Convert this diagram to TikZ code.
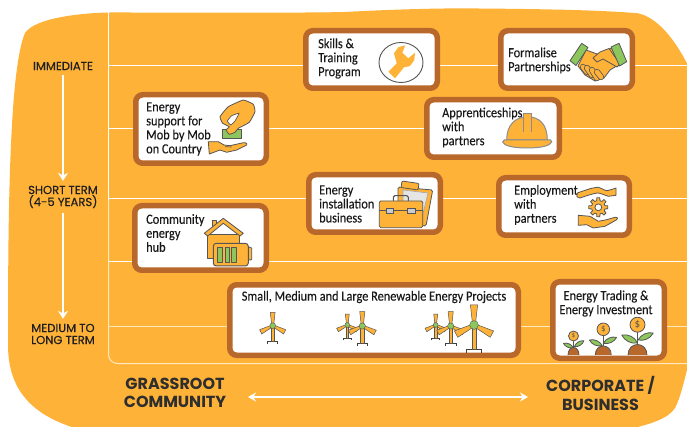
\documentclass[tikz,border=0pt]{standalone}
\usepackage{fontspec}
\usetikzlibrary{arrows.meta}
\setmainfont{Carlito}
\newfontfamily\handf{Carlito}[FakeStretch=0.88,FakeBold=0.25]
\newfontfamily\popf{Poppins}[FakeBold=0.35]
\newfontfamily\popb{Poppins}
\definecolor{blob}{HTML}{FFB238}
\definecolor{brownb}{HTML}{B9682B}
\definecolor{leaf}{HTML}{8CC65C}
\definecolor{ink}{HTML}{555555}
\definecolor{cream}{HTML}{FFE9BE}
\definecolor{soil}{HTML}{B9682B}
\tikzset{
  card/.style={draw=brownb,fill=white,line width=5.5pt,rounded corners=7pt,inner sep=0pt},
  hand/.style={font=\handf\fontsize{14}{14}\selectfont,text=black!90,align=left,anchor=west,inner sep=0pt},
  handc/.style={hand,anchor=center,align=center},
  timelabel/.style={font=\popf\fontsize{11.6}{12}\selectfont,text=black!88,align=center,inner sep=0pt,outer sep=5pt},
  axislabel/.style={font=\popb\bfseries\fontsize{16}{18.5}\selectfont,text=black!82,align=center,inner sep=0pt},
  ic/.style={draw=ink,fill=blob,line width=.8pt,line join=round},
  icg/.style={draw=ink,fill=leaf,line width=.8pt,line join=round},
  gridw/.style={draw=white,line width=1pt},
  gridc/.style={draw=cream,line width=1pt},
  timearrow/.style={draw=white,line width=1.3pt,-{Stealth[length=8pt,width=10pt]}},
  axisarrow/.style={draw=white,line width=1.3pt,{Stealth[length=8pt,width=9pt]}-{Stealth[length=8pt,width=9pt]}}
}
\newcommand\turbine[3]{%
  \begin{scope}[shift={(#1,#2)},scale=#3]
    \draw[draw=black!75,line width=.7pt] (-5,18.7) -- (-5,16) -- (5,16) -- (5,18.7);
    \draw[draw=ink,fill=blob,line width=.5pt] (-1.5,0) rectangle (1.5,16);
    \foreach \ang in {0,117,-117}{
      \draw[draw=ink,fill=blob,line width=.5pt,rotate=\ang] (-1,-1) -- (-2.4,-13.4) -- (2.4,-13.4) -- (1,-1) -- cycle;
    }
    \fill[leaf,draw=ink,line width=.4pt] (0,0) circle (2.9);
  \end{scope}}
% x, coin y, r, soil half width, soil top, left tip, left base, right tip, right base
\newcommand\plantrow[9]{%
  \draw[draw=ink,line width=1pt] (#1,#2) -- (#1,353);
  \draw[draw=ink,fill=soil,line width=.8pt] ({#1-#4},355) .. controls ({#1-#4},#5) and ({#1+#4},#5) .. ({#1+#4},355);
  \draw[icg] (#6) to[bend left=35] (#7) to[bend left=35] (#6);
  \draw[icg] (#8) to[bend right=35] (#9) to[bend right=35] (#8);
  \draw[ic] (#1,#2) circle (#3);
}
\begin{document}
\begin{tikzpicture}[x=1pt,y=-1pt]
\useasboundingbox (0,0) rectangle (687,427);
\clip (0,0) rectangle (687,427);
% background
\fill[blob] (8,345) .. controls (8,220) and (9,70) .. (25,33)
  .. controls (35,18) and (80,13) .. (110,12.5)
  .. controls (230,12.5) and (300,13) .. (345,12)
  .. controls (400,9) and (450,8) .. (478,8.5)
  .. controls (540,9) and (600,10) .. (638,13.3)
  .. controls (655,17) and (675,35) .. (695,80)
  -- (695,340)
  .. controls (687,367) and (682,395) .. (675,408)
  .. controls (668,419) and (650,424) .. (630,429)
  -- (78,429)
  .. controls (38,417) and (8,395) .. (8,345) -- cycle;
% grid
\draw[gridc,rounded corners=9pt] (108.5,200) -- (108.5,363.5) -- (687,363.5);
\draw[gridw] (108.5,12.5) -- (108.5,200);
\draw[gridw] (108.5,65.3) -- (687,65.3);
\draw[gridw] (108.5,129) -- (687,129);
\draw[gridw] (108.5,198.5) -- (687,198.5);
\draw[gridw] (108.5,262) -- (687,262);
\draw[gridc] (108.5,326) -- (687,326);
% time axis
\node[timelabel] (imm) at (63,66) {IMMEDIATE};
\node[timelabel] (short) at (63,197) {SHORT TERM\\(4-5 YEARS)};
\node[timelabel] (medium) at (63,334) {MEDIUM TO\\LONG TERM};
\draw[timearrow] (imm) -- (short);
\draw[timearrow] (short) -- (medium);
% bottom axis
\node[axislabel] (grass) at (175,393) {GRASSROOT\\COMMUNITY};
\node[axislabel] (corp) at (600.5,393.5) {CORPORATE /\\BUSINESS};
\coordinate (axl) at (248,397);
\coordinate (axr) at (528,397);
\draw[axisarrow] (axl) -- (axr);
% cards
\node[card,minimum width=131.5pt,minimum height=57.5pt] (skills) at (371.5,59.5) {};
\node[card,minimum width=131.5pt,minimum height=57.5pt] (formal) at (566.5,59.5) {};
\node[card,minimum width=130.5pt,minimum height=68.5pt] (support) at (201,129) {};
\node[card,minimum width=132.5pt,minimum height=57.5pt] (appr) at (493,128.5) {};
\node[card,minimum width=131.5pt,minimum height=57.5pt] (install) at (374.5,203.5) {};
\node[card,minimum width=130.5pt,minimum height=57.5pt] (employ) at (564,206.5) {};
\node[card,minimum width=131.5pt,minimum height=64.5pt] (hub) at (200.5,238) {};
\node[card,minimum width=288.5pt,minimum height=70.5pt] (projects) at (374,320) {};
\node[card,minimum width=111.5pt,minimum height=76.5pt] (trading) at (608.5,320) {};
% texts
\node[hand] (tskills) at (318,58.5) {Skills \&\\Training\\Program};
\node[hand] (tformal) at (508,60.5) {Formalise\\Partnerships};
\node[hand] (tsupport) at (146,129) {Energy\\support for\\Mob by Mob\\on Country};
\node[hand] (tappr) at (442,127.5) {Apprenticeships\\with\\partners};
\node[hand] (tinstall) at (319,204) {Energy\\installation\\business};
\node[hand] (temploy) at (514,205) {Employment\\with\\partners};
\node[hand] (thub) at (146,233) {Community\\energy\\hub};
\node[handc] (tprojects) at (374,297) {Small, Medium and Large Renewable Energy Projects};
\node[handc] (ttrading) at (606,303.5) {Energy Trading \&\\Energy Investment};
% wrench
\draw[draw=ink,line width=.9pt] (401,62.5) ellipse (22 and 20);
\fill[blob] plot coordinates {(388.3,71.7) (396.7,63.3) (394,53.3) (398.3,47.3) (405.3,45.3) (402.3,52.7) (408.3,58.3) (415,52.7) (414.3,60) (410,66) (404,67.3) (395,78.3)} -- cycle;
% handshake
\draw[ic] (586,50) -- (600,55) -- (607,50) -- (612,48) -- (620,64) -- (610,70) -- (604,78) -- (595,81) -- (585,75) -- (578,66) -- cycle;
\foreach \xa/\ya/\xb/\yb in {583/67/587/72, 587/68/592/75, 592/70/597/78, 597/72/601/77}{
  \draw[draw=ink,line width=6.2pt,line cap=round] (\xa,\ya) -- (\xb,\yb);
  \draw[draw=blob,line width=4.6pt,line cap=round] (\xa,\ya) -- (\xb,\yb);
}
\draw[draw=ink,fill=blob,line width=.8pt,line join=round] (609,48.5) -- (600,52) -- (593,58) -- (597,62) -- (603,59) -- (617,67) -- (620,64) -- cycle;
\draw[icg] (570,60.7) -- (581.7,43.3) -- (588,47.5) -- (576,65.5) -- cycle;
\draw[icg] (611,47) -- (619,43.3) -- (626.7,61.7) -- (619.5,66) -- cycle;
% hand with note
\draw[icg] (222.7,129.3) rectangle (241.7,138.3);
\draw[ic] plot[smooth cycle,tension=.22] coordinates {(220,116.7) (228.3,106.7) (243.3,100) (253.3,104.3) (255,111.7) (249.3,122.3) (238.3,128.3) (235,132.3) (229.3,134.3) (226,130) (229.3,126.7) (222.7,123.3)};
\draw[draw=ink,fill=white,line width=.7pt] plot[smooth cycle,tension=.2] coordinates {(227.3,121) (231.7,115.7) (239,113.3) (235,121) (230.7,125)};
\draw[ic] (208.3,141.7) -- (218.3,141.7) -- (224,145) -- (230,145.7) -- (243.3,142.7) .. controls (247,142.5) and (247.5,144.5) .. (246.7,145) -- (236.7,150) -- (226.7,152.3) -- (220,150) -- (209.3,154) -- cycle;
\draw[draw=ink,line width=.7pt] (225,146.7) -- (231.7,147);
% hard hat
\draw[draw=black!45,fill=blob,line width=1pt] (506.7,140) .. controls (506.7,125) and (515,117) .. (527.7,116.7) .. controls (540,117) and (547.3,125) .. (547.3,140) -- cycle;
\draw[draw=black!45,fill=blob,line width=1pt] (523.3,131.7) -- (523.3,113.2) -- (531.7,113.2) -- (531.7,131.7);
\draw[draw=black!45,fill=blob,line width=1pt] (502.7,142) .. controls (503,139) and (505,140) .. (508,140) -- (547,140) .. controls (550,140) and (552,139) .. (551.7,142) .. controls (550,146) and (540,148) .. (527,148) .. controls (514,148) and (504,146) .. (502.7,142) -- cycle;
% clipboard and briefcase
\draw[ic,rounded corners=1.5pt] (398,187) -- (432.7,190) -- (426,226) -- (398,224) -- cycle;
\draw[draw=black!35,fill=black!10,line width=.6pt] (403,190) -- (428,193) -- (421,222) -- (403,212) -- cycle;
\draw[ic,rounded corners=1pt] (402,181) -- (419,183.5) -- (418,190) -- (401,187.5) -- cycle;
\draw[draw=ink,line width=1.1pt,rounded corners=1.5pt] (393.3,201) -- (393.3,195.7) -- (408.3,195.7) -- (408.3,201);
\draw[ic,rounded corners=1.5pt] (379.3,201) rectangle (422.7,227.7);
\draw[draw=ink,line width=1pt] (379.3,211) -- (422.7,211);
\draw[draw=ink,fill=black!20,line width=.7pt] (386.7,208.5) rectangle (393.3,213.3);
\draw[draw=ink,fill=black!20,line width=.7pt] (407.7,208.5) rectangle (415,213.3);
% caring hands and gear
\draw[ic] plot[smooth,tension=.3] coordinates {(577.3,193) (590,188.7) (598.3,187.3) (606.7,190.7) (616,188)} -- (616,195.3) -- plot[smooth,tension=.3] coordinates {(608.3,196.3) (598.3,193) (590,194.7) (580,198)} .. controls (577,198) and (575.5,195) .. (577.3,193) -- cycle;
\begin{scope}[shift={(598.3,207.3)}]
  \draw[ic] (-14:6.8) \foreach \gearang in {0,45,...,315}{ -- ({\gearang-14}:6.8) -- ({\gearang-9}:9.6) -- ({\gearang+9}:9.6) -- ({\gearang+14}:6.8) } -- cycle;
  \draw[draw=ink,fill=white,line width=.8pt] (0,0) circle (3.4);
\end{scope}
\draw[ic] (578.3,215.3) -- (590,216.3) -- (598.3,221.3) -- (606.7,219.7) -- (615,217.3) .. controls (618,217) and (618,219) .. (616.7,219.7) -- (605,226.3) -- (593.3,228) -- (586.7,224.7) -- (578.3,225.3) -- cycle;
% house and battery
\draw[ic] (212,227) -- (212,220.5) -- (216.7,220.5) -- (216.7,227) -- cycle;
\draw[ic] (207.7,234) -- (207.7,258) -- (239,258) -- (239,234) -- cycle;
\draw[ic] (204.3,233.3) -- (223.3,218.3) -- (243.3,233.3) -- (240,236) -- (223.3,223.3) -- (207.7,236) -- cycle;
\draw[ic,rounded corners=1pt] (248.3,247.3) rectangle (251.7,260);
\draw[ic,rounded corners=3pt,line width=1pt] (213.3,243.3) rectangle (248.3,266);
\foreach \barx in {217.7,225,231.7}{
  \draw[icg] (\barx,247.3) rectangle ({\barx+4.6},262.7);
}
% turbines
\turbine{272.7}{325.7}{1}
\turbine{347.3}{325}{.82}
\turbine{362.3}{326}{1.07}
\turbine{435.7}{325}{.82}
\turbine{450.7}{326}{1.07}
\turbine{474}{325}{1.5}
% plants
\plantrow{573.5}{336}{5}{5.5}{345}{563.3,343.3}{573.3,347.7}{584,340.7}{574.3,346.7}
\plantrow{603.3}{329.3}{6.3}{8}{343}{589.3,340}{602.3,345.7}{616.7,337.3}{603.3,343.3}
\plantrow{637.5}{324.7}{7.5}{9.5}{341}{621.7,335}{637.7,343}{653.3,333}{638,340}
\node[font=\fontsize{7}{7}\selectfont,text=ink,inner sep=0pt] (d1) at (573.5,336) {\$};
\node[font=\fontsize{9}{9}\selectfont,text=ink,inner sep=0pt] (d2) at (603.3,329.3) {\$};
\node[font=\fontsize{11}{11}\selectfont,text=ink,inner sep=0pt] (d3) at (637.5,324.7) {\$};
\end{tikzpicture}
\end{document}
